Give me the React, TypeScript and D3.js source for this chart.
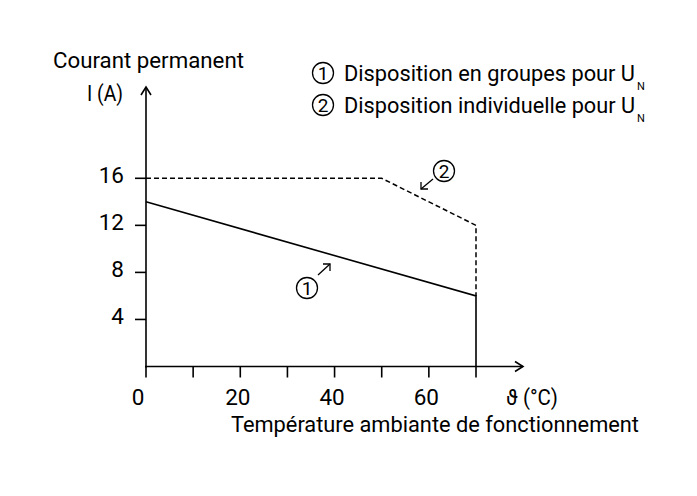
import React from "react";
import * as d3 from "d3";

const xTicks = [0, 10, 20, 30, 40, 50, 60, 70];
const xLabels = [0, 20, 40, 60];
const yTicks = [4, 8, 12, 16];
const curve1 = [
  { t: 0, i: 14 },
  { t: 70, i: 6 },
  { t: 70, i: 0 },
];
const curve2 = [
  { t: 0, i: 16 },
  { t: 50, i: 16 },
  { t: 70, i: 12 },
  { t: 70, i: 6 },
];
const legendItems = [
  { n: "1", label: "Disposition en groupes pour U", sub: "N" },
  { n: "2", label: "Disposition individuelle pour U", sub: "N" },
];

const FONT = "Roboto, 'DejaVu Sans Condensed', sans-serif";

export default function App() {
  const x = d3.scaleLinear().domain([0, 70]).range([146, 476]);
  const y = d3.scaleLinear().domain([0, 16]).range([366.5, 178.3]);
  const line = d3
    .line<{ t: number; i: number }>()
    .x((d) => x(d.t))
    .y((d) => y(d.i));
  const x0 = x(0);
  const y0 = y(0);
  const fs = 22.5;
  const sw = 1.6;
  return (
    <svg
      width={697}
      height={496}
      style={{ position: "absolute", left: 0, top: 0, background: "#fff" }}
      fontFamily={FONT}
    >
      <rect width={697} height={496} fill="#fff" />
      {/* axes */}
      <line x1={x0} y1={y0 + 1} x2={x0} y2={87} stroke="#000" strokeWidth={sw} />
      <path d={`M${x0 - 5},${95} L${x0},${87} L${x0 + 5},${95}`} fill="none" stroke="#000" strokeWidth={sw} />
      <line x1={x0 - 1} y1={y0} x2={523} y2={y0} stroke="#000" strokeWidth={sw} />
      <path d={`M${515},${y0 - 5} L${523},${y0} L${515},${y0 + 5}`} fill="none" stroke="#000" strokeWidth={sw} />
      {xTicks.map((t) => (
        <line key={t} x1={x(t)} x2={x(t)} y1={y0} y2={y0 + 11} stroke="#000" strokeWidth={sw} />
      ))}
      {xLabels.map((t) => (
        <text key={t} x={t === 0 ? x(t) - 8 : x(t) - 2.5} y={405} textAnchor="middle" fontSize={fs}>
          {t}
        </text>
      ))}
      {yTicks.map((t) => (
        <g key={t}>
          <line x1={x0 - 11} x2={x0} y1={y(t)} y2={y(t)} stroke="#000" strokeWidth={sw} />
          <text x={124} y={y(t) + 5} textAnchor="end" fontSize={fs}>
            {t}
          </text>
        </g>
      ))}
      {/* curves */}
      <path d={line(curve2) || ""} fill="none" stroke="#000" strokeWidth={1.5} strokeDasharray="5 3" />
      <path d={line(curve1) || ""} fill="none" stroke="#000" strokeWidth={sw} />
      {/* annotations */}
      <circle cx={307} cy={288} r={10.5} fill="none" stroke="#000" strokeWidth={1.3} />
      <text x={307} y={295} textAnchor="middle" fontSize={19}>1</text>
      <line x1={318} y1={275} x2={330} y2={264} stroke="#000" strokeWidth={1.3} />
      <path d="M323,264 L330,264 L330,271" fill="none" stroke="#000" strokeWidth={1.3} />
      <circle cx={444} cy={171} r={10.5} fill="none" stroke="#000" strokeWidth={1.3} />
      <text x={444} y={178} textAnchor="middle" fontSize={19}>2</text>
      <line x1={433} y1={179} x2={421} y2={189} stroke="#000" strokeWidth={1.3} />
      <path d="M421,182 L421,189 L428,189" fill="none" stroke="#000" strokeWidth={1.3} />
      {/* axis titles */}
      <text x={53} y={68} fontSize={fs} textLength={191} lengthAdjust="spacingAndGlyphs">Courant permanent</text>
      <text x={87} y={101} fontSize={fs} textLength={36} lengthAdjust="spacingAndGlyphs">I (A)</text>
      <text x={506} y={405} fontSize={fs} textLength={52} lengthAdjust="spacingAndGlyphs">ϑ (°C)</text>
      <text x={231} y={432} fontSize={fs} textLength={408} lengthAdjust="spacingAndGlyphs">
        Température ambiante de fonctionnement
      </text>
      {/* legend */}
      {legendItems.map((d, k) => {
        const cy = 73 + k * 32;
        return (
          <g key={d.n}>
            <circle cx={323} cy={cy} r={10.5} fill="none" stroke="#000" strokeWidth={1.3} />
            <text x={323} y={cy + 7} textAnchor="middle" fontSize={19}>{d.n}</text>
            <text x={344} y={cy + 8} fontSize={fs}>
              <tspan textLength={291} lengthAdjust="spacingAndGlyphs">{d.label}</tspan>
              <tspan x={637} dy={9} fontSize={11}>{d.sub}</tspan>
            </text>
          </g>
        );
      })}
    </svg>
  );
}
